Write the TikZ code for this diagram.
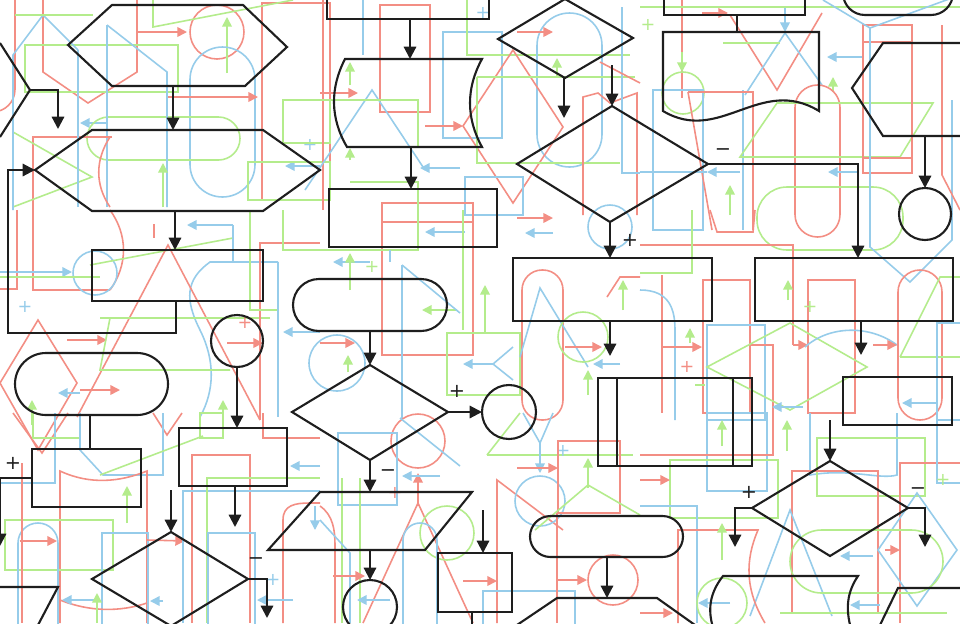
\documentclass[tikz,border=0pt]{standalone}
\usepackage{fontspec}
\setmainfont{DejaVu Sans}
\usetikzlibrary{arrows.meta}
\definecolor{cR}{RGB}{243,142,132}
\definecolor{cB}{RGB}{150,204,234}
\definecolor{cG}{RGB}{180,236,140}
\definecolor{ink}{RGB}{30,30,30}
\begin{document}
\begin{tikzpicture}[x=0.02cm,y=-0.02cm,
  R/.style={draw=cR,line width=0.9pt},
  B/.style={draw=cB,line width=0.9pt},
  G/.style={draw=cG,line width=0.9pt},
  ctip/.style={-{Triangle[length=5.5pt,width=5.5pt]}},
  blk/.style={draw=ink,line width=1.2pt},
  barr/.style={blk,-{Triangle[length=7pt,width=7pt]}},
  lbl/.style={text=ink,font=\fontsize{11}{12}\selectfont,inner sep=0pt},
  clbl/.style={font=\fontsize{10}{12}\selectfont,inner sep=0pt}]
\useasboundingbox (0,0) rectangle (960,623);
\clip (0,0) rectangle (960,623);
\fill[white] (0,0) rectangle (960,623);

% ---------------- coloured background layer ----------------
% zone 1
\draw[R,rounded corners=0.45cm] (-30,-30) rectangle (15,112);
\draw[R] (43,0) -- (43,72) -- (88,103) -- (137,72) -- (137,0);
\draw[G] (25,45) rectangle (178,92);
\draw[R,ctip] (138,32) -- (187,32);
\draw[R] (217,32) circle[radius=27];
\draw[G,ctip] (227,73) -- (227,17);
\draw[B,rounded corners=0.65cm] (190,47) rectangle (255,197);
\draw[B,ctip] (107,123) -- (80,123);
\draw[G,rounded corners=0.43cm] (87,117) rectangle (240,160);
\draw[R,ctip] (167,97) -- (258,97);
\draw[R] (262,3) rectangle (330,200);
\draw[B] (107,25) -- (167,72) -- (167,207);
\draw[B] (107,25) -- (107,207);
\draw[R] (112,137) -- (33,137) -- (33,210);
\draw[R] (110,137) .. controls (95,160) and (95,185) .. (110,207);
\draw[G,ctip] (163,207) -- (163,163);
\draw[G] (13,132) -- (92,177) -- (13,207);
\draw[B] (78,50) -- (78,207);
\draw[B,ctip] (320,166) -- (285,166);
\node[clbl,text=cB] (bp1) at (310,145) {+};
\draw[G] (283,100) rectangle (330,143);
\draw[G] (248,162) rectangle (330,200);
\draw[B] (13,210) -- (13,55) -- (43,15) -- (78,50);
\draw[G] (15,15) -- (93,15);
\draw[G] (153,0) -- (153,27) -- (293,0);

% zone 2
\draw[R] (323,0) -- (323,210);
\draw[B] (363,0) -- (363,55);
\draw[R] (380,5) rectangle (430,112);
\draw[B] (443,32) rectangle (502,138);
\node[clbl,text=cB] (bp2) at (483,13) {+};
\draw[G] (467,0) -- (467,55) -- (630,55);
\draw[B,rounded corners=0.65cm] (537,13) rectangle (602,167);
\draw[R,ctip] (517,32) -- (553,32);
\draw[G,ctip] (557,77) -- (557,58);
\draw[R] (463,126) -- (513,50) -- (563,127) -- (513,203) -- cycle;
\draw[R,ctip] (425,126) -- (463,126);
\draw[B] (305,190) -- (372,90) -- (425,170);
\draw[B,ctip] (460,168) -- (420,168);
\draw[G] (320,100) -- (418,100) -- (418,147);
\draw[G,ctip] (350,85) -- (350,62);
\draw[G,ctip] (350,160) -- (350,148);
\draw[R,ctip] (320,93) -- (358,93);
\draw[G] (477,77) -- (635,77);
\draw[G] (477,77) -- (477,163) -- (620,163);
\draw[R] (583,215) -- (583,97) -- (598,93) -- (610,103) -- (637,93) -- (637,215);
\draw[B] (622,7) -- (622,173) -- (640,173);
\draw[R] (600,62) -- (640,83);
\draw[B] (465,177) rectangle (523,215);
\draw[R] (382,203) rectangle (473,355);
\draw[R] (382,222) -- (473,222);
\draw[G] (350,182) -- (418,182) -- (418,250) -- (320,250);

% zone 3
\draw[R,ctip] (702,13) -- (728,13);
\node[clbl,text=cG] (gp1) at (648,25) {+};
\draw[R] (682,0) -- (682,98);
\draw[G,ctip] (682,52) -- (682,72);
\draw[G] (683,93) circle[radius=21];
\draw[R] (730,15) -- (777,90) -- (822,13);
\draw[B,ctip] (785,8) -- (785,32);
\draw[B] (785,33) -- (745,95);
\draw[B] (785,33) -- (822,85);
\draw[G] (723,43) -- (780,43);
\draw[G] (640,7) -- (960,7);
\draw[B,ctip] (862,57) -- (827,57);
\draw[G,ctip] (833,92) -- (833,77);
\draw[R,rounded corners=0.45cm] (795,85) rectangle (840,237);
\draw[B] (653,90) rectangle (703,230);
\draw[B] (743,90) -- (743,230);
\draw[R] (688,92) -- (753,92) -- (753,230);
\draw[R] (688,92) -- (712,230);
\draw[G] (740,157) -- (777,103) -- (933,103) -- (900,157) -- cycle;
\draw[B] (640,172) -- (707,172);
\draw[B,ctip] (740,172) -- (707,172);
\draw[B,ctip] (857,172) -- (828,172);
\draw[G,ctip] (730,215) -- (730,185);
\draw[R] (863,25) rectangle (912,173);
\draw[R] (863,42) -- (912,42);
\draw[R] (863,158) -- (912,158);
\draw[G,rounded corners=0.6cm] (757,187) rectangle (903,250);
\draw[B] (870,28) -- (870,247) -- (910,282) -- (952,240) -- (952,100);
\draw[B] (823,0) -- (870,28) -- (960,-5);
\draw[R] (942,25) -- (942,175) -- (960,210);

% zone 4
\draw[R] (33,210) -- (33,290) -- (110,290);
\draw[R] (0,289) -- (17,289) -- (17,210);
\draw[R] (110,210) .. controls (128,235) and (128,265) .. (110,290);
\draw[B] (95,273) circle[radius=22];
\draw[B,ctip] (0,272) -- (72,272);
\node[clbl,text=cB] (bp3) at (25,307) {+};
\draw[G] (0,277) -- (100,277);
\draw[G] (90,265) -- (233,238);
\draw[B,ctip] (233,225) -- (187,225);
\draw[B] (233,225) -- (233,262);
\draw[B] (278,262) -- (210,262) .. controls (185,280) and (185,300) .. (200,330) .. controls (215,360) and (215,390) .. (200,417);
\draw[B] (278,262) -- (278,417);
\draw[R] (77,417) -- (168,245) -- (260,420);
\draw[R] (0,383) -- (38,320) -- (77,383) -- (38,450) -- cycle;
\draw[R,ctip] (80,390) -- (120,390);
\draw[B,ctip] (80,393) -- (58,393);
\draw[R,ctip] (67,340) -- (107,340);
\draw[G] (100,318) -- (270,318);
\draw[G] (110,318) -- (100,370) -- (230,370);
\node[clbl,text=cR] (rp1) at (245,323) {+};
\draw[R,ctip] (227,343) -- (263,343);
\draw[R] (260,420) -- (260,243) -- (320,243);
\draw[G] (283,210) -- (283,250) -- (320,250);
\draw[G] (250,210) -- (250,310) -- (277,310);
\draw[B,ctip] (320,332) -- (283,332);
\draw[G,ctip] (32,425) -- (32,400);
\draw[G,ctip] (223,425) -- (223,400);
\draw[R] (154,224) -- (154,238);

% zone 5
\draw[B,ctip] (465,232) -- (425,232);
\draw[B,ctip] (370,262) -- (333,262);
\draw[G,ctip] (350,290) -- (350,253);
\node[clbl,text=cG] (gp2) at (372,267) {+};
\draw[B] (390,250) -- (390,262);
\draw[G,ctip] (457,310) -- (422,310);
\draw[B] (402,265) -- (460,313);
\draw[B] (402,265) -- (402,420);
\draw[G,ctip] (485,333) -- (485,285);
\draw[G] (447,333) rectangle (520,395);
\draw[B,ctip] (493,364) -- (463,364);
\draw[B] (493,364) -- (513,347);
\draw[B] (493,364) -- (513,380);
\draw[R,rounded corners=0.4cm] (522,270) rectangle (563,420);
\draw[B] (520,357) -- (540,288) -- (588,367);
\draw[G] (583,337) circle[radius=25];
\draw[R,ctip] (565,347) -- (602,347);
\draw[B,ctip] (620,364) -- (593,364);
\draw[G,ctip] (588,395) -- (588,370);
\draw[B] (337,363) circle[radius=28];
\draw[R,ctip] (320,343) -- (355,343);
\draw[G,ctip] (348,372) -- (348,355);
\draw[B] (610,227) circle[radius=22];
\draw[R,ctip] (517,218) -- (553,218);
\draw[B,ctip] (553,233) -- (525,233);
\draw[G] (463,210) -- (463,330);
\draw[R] (607,297) -- (620,277) -- (640,277);
\draw[G,ctip] (623,310) -- (623,280);

% zone 6
\draw[R] (710,210) -- (717,232) -- (753,232) -- (755,210);
\draw[R] (640,245) -- (793,245) -- (793,345);
\draw[R,ctip] (793,345) -- (808,345);
\draw[G] (692,210) -- (692,273) -- (640,273);
\draw[R] (703,280) rectangle (750,413);
\draw[R] (808,280) rectangle (855,413);
\draw[R] (662,275) -- (662,413);
\draw[B] (640,290) .. controls (670,290) and (675,310) .. (675,330) -- (675,420);
\draw[G,ctip] (788,300) -- (788,280);
\node[clbl,text=cG] (gp3) at (810,307) {+};
\draw[G,ctip] (690,343) -- (690,328);
\draw[R,ctip] (663,347) -- (702,347);
\node[clbl,text=cR] (rp2) at (687,367) {+};
\draw[B] (707,325) rectangle (765,420);
\draw[R] (750,345) -- (773,345) -- (773,420);
\draw[G] (707,367) -- (790,323) -- (867,367) -- (790,410) -- cycle;
\draw[B] (805,347) .. controls (830,325) and (870,325) .. (897,345);
\draw[R,ctip] (873,345) -- (897,345);
\draw[R,rounded corners=0.44cm] (898,270) rectangle (942,420);
\draw[G] (900,357) -- (960,357);
\draw[G] (900,357) -- (940,277) -- (960,277);
\draw[B] (937,323) rectangle (970,420);
\draw[B,ctip] (937,403) -- (902,403);
\draw[B,ctip] (803,407) -- (772,407);
\draw[G] (695,385) -- (705,385);

% zone 7
\draw[R] (13,413) -- (42,453) -- (68,413);
\draw[R] (153,413) -- (167,435) -- (182,413);
\draw[B] (55,413) -- (55,483) -- (0,483);
\draw[G] (33,413) -- (33,438) -- (80,438);
\draw[B] (80,413) -- (80,450) -- (103,475) -- (163,475) -- (163,413);
\draw[G] (100,475) -- (203,436);
\draw[G] (200,413) rectangle (223,438);
\draw[R] (60,623) -- (60,471) .. controls (90,485) and (120,482) .. (147,471) -- (147,623);
\draw[G,ctip] (127,523) -- (127,486);
\draw[G] (5,520) rectangle (113,570);
\draw[B,rounded corners=0.4cm] (18,523) rectangle (58,650);
\draw[R,ctip] (20,541) -- (57,541);
\draw[R] (22,463) -- (22,623);
\draw[B] (102,533) rectangle (148,650);
\draw[R] (60,600) .. controls (90,612) and (120,612) .. (147,603);
\draw[B,ctip] (97,600) -- (62,600);
\draw[G,ctip] (97,623) -- (97,593);
\draw[B,ctip] (163,601) -- (150,601);
\draw[R] (192,623) -- (192,455) -- (250,455) -- (250,623);
\draw[R,ctip] (147,540) -- (185,541);
\draw[B] (183,623) -- (183,491) -- (320,491);
\draw[G] (207,623) -- (207,478) -- (320,478);
\draw[B] (208,533) rectangle (255,650);
\draw[B,ctip] (315,506) -- (315,530);
\draw[R] (263,413) -- (263,438) -- (320,438);
\draw[B,ctip] (320,466) -- (290,466);
\draw[R] (283,623) -- (283,520) .. controls (283,505) and (295,503) .. (310,503) -- (320,503);
\node[clbl,text=cB] (bp4) at (273,580) {+};
\draw[B,ctip] (293,600) -- (257,600);

% zone 8
\draw[R] (418,441) circle[radius=27];
\draw[B] (338,433) rectangle (397,505);
\draw[B] (400,418) -- (460,466);
\draw[R,ctip] (418,506) -- (418,473);
\draw[B,ctip] (440,476) -- (402,476);
\draw[R] (363,623) -- (418,503) -- (473,623);
\draw[G] (447,533) circle[radius=27];
\draw[B,rounded corners=0.34cm] (403,523) rectangle (437,650);
\node[clbl,text=cR] (rp3) at (395,493) {+};
\draw[G] (342,478) -- (342,623);
\draw[G] (360,478) -- (360,623);
\draw[R] (320,506) .. controls (333,515) and (335,530) .. (335,545) -- (335,623);
\draw[B] (320,520) -- (350,553) -- (350,623);
\draw[R,ctip] (333,576) -- (365,576);
\draw[B,ctip] (390,600) -- (357,600);
\draw[R] (497,623) -- (497,480) -- (563,530);
\draw[R,ctip] (463,581) -- (497,581);
\draw[B] (483,591) rectangle (575,650);
\draw[G] (487,455) -- (633,455);
\draw[G] (487,455) -- (520,413);
\draw[B] (523,413) -- (540,443) -- (553,413);
\draw[B,ctip] (540,443) -- (540,473);
\draw[B] (540,501) circle[radius=25];
\draw[R,ctip] (517,468) -- (558,468);
\node[clbl,text=cB] (bp5) at (563,451) {+};
\draw[R] (558,441) rectangle (620,513);
\draw[G,ctip] (588,488) -- (588,458);
\draw[G] (588,485) -- (640,515);
\draw[G] (588,485) -- (535,530);
\draw[R,ctip] (557,580) -- (587,580);
\draw[R] (613,580) circle[radius=25];
\draw[R] (557,513) -- (557,623);

% zone 9
\draw[G,ctip] (722,446) -- (722,420);
\draw[G,ctip] (787,451) -- (787,420);
\draw[B] (707,413) rectangle (767,491);
\draw[R] (640,455) -- (773,455) -- (773,413);
\draw[G] (670,460) rectangle (778,518);
\draw[R,ctip] (640,480) -- (670,480);
\draw[B] (810,413) -- (810,475) .. controls (850,468) and (880,480) .. (897,475) -- (897,413);
\draw[G] (817,438) rectangle (925,496);
\draw[R] (792,471) rectangle (878,613);
\draw[R] (900,623) -- (900,463) -- (960,463);
\draw[B] (937,413) -- (937,483) -- (960,483);
\node[clbl,text=cG] (gp4) at (943,480) {+};
\draw[B] (750,616) -- (790,510) -- (832,616);
\draw[B] (878,550) -- (917,493) -- (957,550) -- (917,606) -- cycle;
\draw[R,ctip] (885,550) -- (900,550);
\draw[G,rounded corners=0.63cm] (790,530) rectangle (943,593);
\draw[B,ctip] (873,556) -- (840,556);
\draw[B] (640,506) -- (697,506) -- (697,623);
\draw[R] (678,623) -- (678,530) -- (758,530) .. controls (745,560) and (745,590) .. (765,623);
\draw[G] (722,603) circle[radius=25];
\draw[B,ctip] (730,603) -- (698,603);
\draw[B,ctip] (880,605) -- (850,605);
\draw[G,ctip] (722,560) -- (722,523);
\draw[G] (780,613) -- (947,613);
\draw[R,ctip] (640,613) -- (673,613);

% ---------------- black flowchart layer ----------------
% top-left partial hexagon
\coordinate (hx0) at (30,90);
\draw[blk] (0,43) -- (hx0) -- (0,137);
\coordinate (hx0a) at (58,129);
\draw[barr] (hx0) -| (hx0a);

% hexagon top
\draw[blk] (68,45) -- (112,5) -- (243,5) -- (287,47) -- (245,86) -- (112,86) -- cycle;
\coordinate (hx1b) at (173,86);
\coordinate (hx2t) at (173,130);
\draw[barr] (hx1b) -- (hx2t);

% big hexagon
\draw[blk] (35,170) -- (92,130) -- (263,130) -- (320,170) -- (263,211) -- (92,211) -- cycle;
\coordinate (hx2l) at (35,170);
\coordinate (hx2b) at (175,211);
\coordinate (r1t) at (175,250);
\draw[barr] (hx2b) -- (r1t);

% rectangle + loop back
\draw[blk] (92,250) rectangle (263,301);
\coordinate (r1b) at (176,301);
\draw[barr] (r1b) -- (176,333) -- (8,333) -- (8,170) -- (hx2l);

% circle and rectangle
\draw[blk] (237,341) circle[radius=26];
\coordinate (c1b) at (237,367);
\coordinate (r2t) at (237,428);
\draw[barr] (c1b) -- (r2t);
\draw[blk] (179,428) rectangle (287,486);
\coordinate (r2b) at (235,486);
\coordinate (r2a) at (235,527);
\draw[barr] (r2b) -- (r2a);

% left stadium + rectangle
\draw[blk,rounded corners=0.62cm] (15,353) rectangle (168,415);
\coordinate (s1b) at (90,415);
\coordinate (r3t) at (90,449);
\draw[blk] (s1b) -- (r3t);
\draw[blk] (32,449) rectangle (141,507);
\coordinate (r3l) at (32,478);
\coordinate (lft) at (0,478);
\draw[blk] (r3l) -- (lft);
\draw[barr] (lft) -- (0,546);
\node[lbl] (pl1) at (13,463) {+};

% bottom-left diamond
\draw[blk] (171,532) -- (92,579) -- (171,626) -- (248,579) -- cycle;
\coordinate (d1t) at (171,532);
\coordinate (d1r) at (248,579);
\draw[barr] (171,490) -- (d1t);
\draw[barr] (d1r) -| (267,618);
\node[lbl] (mi1) at (256,561) {−};
\draw[blk] (0,587) -- (58,587) -- (38,625);

% centre stadium, diamond, circle
\draw[blk,rounded corners=0.52cm] (293,279) rectangle (447,331);
\coordinate (s2b) at (370,331);
\coordinate (d2t) at (370,365);
\draw[barr] (s2b) -- (d2t);
\draw[blk] (370,365) -- (292,412) -- (370,460) -- (448,412) -- cycle;
\coordinate (d2r) at (448,412);
\coordinate (c2l) at (482,412);
\draw[barr] (d2r) -- (c2l);
\node[lbl] (pl2) at (457,391) {+};
\draw[blk] (509,412) circle[radius=27];
\coordinate (d2b) at (370,460);
\coordinate (p1t) at (370,492);
\draw[barr] (d2b) -- (p1t);
\node[lbl] (mi2) at (388,473) {−};

% parallelogram + circle
\draw[blk] (320,492) -- (472,492) -- (425,550) -- (268,550) -- cycle;
\coordinate (p1b) at (370,550);
\coordinate (c3t) at (370,580);
\draw[barr] (p1b) -- (c3t);
\draw[blk] (370,607) circle[radius=27];

% upper centre column
\draw[blk] (327,-5) rectangle (489,19);
\coordinate (r4b) at (410,19);
\coordinate (sd1t) at (410,59);
\draw[barr] (r4b) -- (sd1t);
\draw[blk] (345,59) -- (482,59) .. controls (466,88) and (466,118) .. (482,147) -- (347,147) .. controls (330,118) and (330,88) .. (345,59) -- cycle;
\coordinate (sd1b) at (411,147);
\coordinate (r5t) at (411,189);
\draw[barr] (sd1b) -- (r5t);
\draw[blk] (329,189) rectangle (497,247);

% small diamond top
\draw[blk] (498,39) -- (565,-1) -- (633,38) -- (565,78) -- cycle;
\coordinate (d3b) at (564,78);
\draw[barr] (d3b) -- (564,118);
\coordinate (d4t) at (612,106);
\draw[barr] (612,65) -- (d4t);

% big diamond
\draw[blk] (612,106) -- (517,164) -- (610,222) -- (708,164) -- cycle;
\coordinate (d4r) at (708,164);
\coordinate (r7t) at (858,258);
\draw[barr] (d4r) -| (r7t);
\node[lbl] (mi3) at (723,152) {−};
\coordinate (d4b) at (610,222);
\coordinate (r6t) at (610,258);
\draw[barr] (d4b) -- (r6t);
\node[lbl] (pl3) at (630,240) {+};

% rectangles middle row
\draw[blk] (513,258) rectangle (712,321);
\coordinate (r6b) at (610,321);
\draw[barr] (r6b) -- (610,356);
\draw[blk] (755,258) rectangle (953,321);
\coordinate (r7b) at (861,321);
\draw[barr] (r7b) -- (861,355);

% predefined process
\draw[blk] (598,378) rectangle (752,466);
\draw[blk] (617,378) -- (617,466);
\draw[blk] (733,378) -- (733,466);
\draw[blk] (843,377) rectangle (952,425);

% bottom-right diamond
\draw[blk] (830,461) -- (752,508) -- (830,556) -- (908,508) -- cycle;
\coordinate (d5t) at (830,461);
\draw[barr] (830,420) -- (d5t);
\coordinate (d5l) at (752,508);
\coordinate (d5r) at (908,508);
\draw[barr] (d5l) -| (735,547);
\draw[barr] (d5r) -| (925,547);
\node[lbl] (pl4) at (749,492) {+};
\node[lbl] (mi4) at (918,491) {−};

% bottom stadium + partial hexagon
\draw[blk,rounded corners=0.41cm] (530,516) rectangle (683,557);
\coordinate (s3b) at (607,557);
\coordinate (hx3t) at (607,598);
\draw[barr] (s3b) -- (hx3t);
\draw[blk] (517,625) -- (557,598) -- (657,598) -- (695,625);

% bottom small rectangle
\draw[blk] (438,553) rectangle (512,612);
\coordinate (r8t) at (483,553);
\draw[barr] (483,510) -- (r8t);
\draw[blk] (472,612) -- (472,630);

% bottom-right stored data + parallelogram
\draw[blk] (718,640) .. controls (706,615) and (708,595) .. (723,576) -- (858,576) .. controls (845,595) and (845,615) .. (855,640);
\draw[blk] (880,625) -- (898,588) -- (965,588);

% top-right document
\draw[blk] (664,-5) rectangle (805,15);
\coordinate (r9b) at (737,15);
\coordinate (doc) at (737,32);
\draw[blk] (r9b) -- (doc);
\draw[blk] (663,32) -- (819,32) -- (819,111) .. controls (760,75) and (720,145) .. (663,111) -- cycle;
\draw[blk,rounded corners=0.44cm] (843,-30) rectangle (953,15);

% right hexagon + circle
\draw[blk] (975,43) -- (883,43) -- (852,88) -- (883,136) -- (975,136);
\coordinate (hx4b) at (925,136);
\coordinate (c4t) at (925,188);
\draw[barr] (hx4b) -- (c4t);
\draw[blk] (925,214) circle[radius=26];
\end{tikzpicture}
\end{document}
